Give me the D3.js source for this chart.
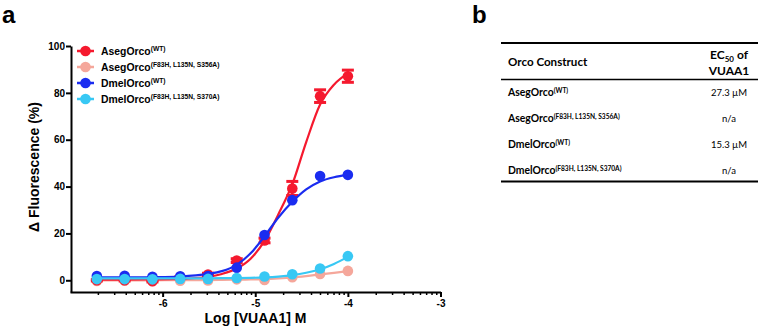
<!DOCTYPE html>
<html>
<head>
<script src="https://d3js.org/d3.v7.min.js"></script>
<style>
  body { margin: 0; background: #fff; }
  svg { display: block; }
  .axis text { font-family: "Liberation Sans", Arial, sans-serif; font-weight: bold; font-size: 10px; fill: #000; }
  .axis path, .axis line { stroke: #000; stroke-width: 2; }
  .minor line { stroke-width: 1.5; }
  .title { font-family: "Liberation Sans", Arial, sans-serif; font-weight: bold; font-size: 14px; }
  .panel { font-family: "Liberation Sans", Arial, sans-serif; font-weight: bold; font-size: 24px; }
  .legend text { font-family: "Liberation Sans", Arial, sans-serif; font-weight: bold; font-size: 10.4px; }
  .tbl text { font-family: Lato, "Open Sans", sans-serif; fill: #000; }
</style>
</head>
<body>
<div id="chart"></div>
<script>
// dose points, log10 [VUAA1] M (two-fold dilutions from 100 uM)
const logConc = [-6.71, -6.41, -6.11, -5.81, -5.51, -5.20, -4.90, -4.60, -4.30, -4.00];
const asegWT    = [0.0, 0.0, -0.4, 1.1, 2.5, 8.4, 17.0, 39.2, 78.6, 87.1];
const asegWTErr = [0.3, 0.3, 0.3, 0.4, 0.5, 0.8, 1.0, 3.0, 2.7, 2.6];
const asegMut   = [-0.3, -0.2, -0.3, -0.2, -0.1, 0.4, 0.1, 1.3, 2.7, 4.0];
const dmelWT    = [1.8, 1.9, 1.5, 1.7, 1.8, 5.4, 19.3, 34.2, 44.5, 45.0];
const dmelMut   = [0.5, 0.5, 0.4, 0.6, 0.6, 1.0, 1.6, 2.6, 5.0, 10.3];

// fitted curves at these x positions
const fitX       = [-6.71, -6.41, -6.11, -5.81, -5.51, -5.36, -5.20, -5.05, -4.90, -4.75, -4.60, -4.45, -4.30, -4.15, -4.00];
const asegWTFit  = [0.3, 0.3, 0.4, 0.6, 1.5, 2.7, 5.0, 9.2, 16.8, 28.2, 41.0, 59.0, 75.0, 83.5, 88.3];
const asegMutFit = [0.0, 0.0, 0.0, 0.05, 0.1, 0.15, 0.25, 0.35, 0.5, 0.8, 1.2, 1.8, 2.5, 3.2, 3.9];
const dmelWTFit  = [1.2, 1.2, 1.3, 1.6, 2.7, 3.9, 6.6, 11.5, 18.8, 26.8, 33.5, 38.8, 42.2, 44.0, 45.0];
const dmelMutFit = [0.8, 0.8, 0.8, 0.8, 0.85, 0.9, 0.95, 1.05, 1.25, 1.6, 2.2, 3.2, 4.7, 7.0, 10.0];

const xMajor = [-6, -5, -4, -3];
const yTicks = [0, 20, 40, 60, 80, 100];

const seriesNames = ["AsegOrco", "AsegOrco", "DmelOrco", "DmelOrco"];
const seriesSups = ["(WT)", "(F83H, L135N, S356A)", "(WT)", "(F83H, L135N, S370A)"];
const colors = ["#f5192e", "#f5a79b", "#1a2cf0", "#38c8f4"];

const tableHead = ["Orco Construct", "EC", "50", " of", "VUAA1"];
const ec50 = ["27.3 \u00b5M", "n/a", "15.3 \u00b5M", "n/a"];

const width = 760, height = 330;
const svg = d3.select("#chart").append("svg")
  .attr("width", width).attr("height", height);

const x = d3.scaleLinear().domain([-7, -3]).range([70, 440.5]);
const y = d3.scaleLinear().domain([-5, 100]).range([292, 46]);

// minor log ticks inside each decade
const xMinor = [];
for (let dec = -7; dec < -3; dec++) {
  for (let k = 2; k <= 9; k++) xMinor.push(dec + Math.log10(k));
}

svg.append("g").attr("class", "axis minor")
  .attr("transform", `translate(0,292)`)
  .call(d3.axisBottom(x).tickValues(xMinor).tickSize(3).tickSizeOuter(0).tickFormat(""))
  .select(".domain").remove();

svg.append("g").attr("class", "axis")
  .attr("transform", `translate(0,292)`)
  .call(d3.axisBottom(x).tickValues(xMajor).tickSize(5).tickSizeOuter(0).tickPadding(3)
    .tickFormat(d => String(d)));

svg.append("g").attr("class", "axis")
  .attr("transform", `translate(71,0)`)
  .call(d3.axisLeft(y).tickValues(yTicks).tickSize(5).tickSizeOuter(0).tickPadding(1));

svg.append("text").attr("class", "title")
  .attr("x", 255.5).attr("y", 323).attr("text-anchor", "middle")
  .text("Log [VUAA1] M");

svg.append("text").attr("class", "title")
  .attr("transform", "translate(38.5,167) rotate(-90)")
  .attr("text-anchor", "middle")
  .text("\u0394 Fluorescence (%)");

svg.append("text").attr("class", "panel").attr("x", 2).attr("y", 23).text("a");
svg.append("text").attr("class", "panel").attr("x", 472).attr("y", 23).text("b");

// data series
const series = [
  { pts: asegMut, fit: asegMutFit, err: null, color: colors[1] },
  { pts: asegWT, fit: asegWTFit, err: asegWTErr, color: colors[0] },
  { pts: dmelWT, fit: dmelWTFit, err: null, color: colors[2] },
  { pts: dmelMut, fit: dmelMutFit, err: null, color: colors[3] }
];

const line = d3.line()
  .x((d, i) => x(fitX[i]))
  .y(d => y(d))
  .curve(d3.curveMonotoneX);

series.forEach(s => {
  const g = svg.append("g");
  if (s.err) {
    s.pts.forEach((v, i) => {
      const e = s.err[i];
      const cx = x(logConc[i]);
      g.append("line").attr("x1", cx).attr("x2", cx)
        .attr("y1", y(v - e)).attr("y2", y(v + e))
        .attr("stroke", s.color).attr("stroke-width", 2.5);
      [v - e, v + e].forEach(b => {
        g.append("line").attr("x1", cx - 6).attr("x2", cx + 6)
          .attr("y1", y(b)).attr("y2", y(b))
          .attr("stroke", s.color).attr("stroke-width", 3);
      });
    });
  }
  g.append("path").datum(s.fit)
    .attr("d", line).attr("fill", "none")
    .attr("stroke", s.color).attr("stroke-width", 2.2);
  g.selectAll("circle").data(s.pts).join("circle")
    .attr("cx", (d, i) => x(logConc[i]))
    .attr("cy", d => y(d))
    .attr("r", 5.3)
    .attr("fill", s.color);
});

// legend
const legendRows = [51, 67, 83, 99];
const legend = svg.append("g").attr("class", "legend");
seriesNames.forEach((name, i) => {
  const cy = legendRows[i];
  legend.append("line").attr("x1", 77).attr("x2", 94)
    .attr("y1", cy).attr("y2", cy)
    .attr("stroke", colors[i]).attr("stroke-width", 2.5);
  legend.append("circle").attr("cx", 85.5).attr("cy", cy).attr("r", 5.3)
    .attr("fill", colors[i]);
  const t = legend.append("text").attr("x", 101).attr("y", cy + 4);
  t.append("tspan").text(name);
  t.append("tspan").attr("dy", -4).style("font-size", "6.7px").text(seriesSups[i]);
});

// table (panel b)
const tbl = svg.append("g").attr("class", "tbl");
const tL = 501, tR = 758;
tbl.append("line").attr("x1", tL).attr("x2", tR).attr("y1", 43).attr("y2", 43)
  .attr("stroke", "#000").attr("stroke-width", 2);
tbl.append("line").attr("x1", tL).attr("x2", tR).attr("y1", 79.5).attr("y2", 79.5)
  .attr("stroke", "#000").attr("stroke-width", 1.3);
tbl.append("line").attr("x1", tL).attr("x2", tR).attr("y1", 181.5).attr("y2", 181.5)
  .attr("stroke", "#000").attr("stroke-width", 2);

tbl.append("text").attr("x", 508).attr("y", 66)
  .style("font-weight", "bold").style("font-size", "11.6px").text(tableHead[0]);
const h2 = tbl.append("text").attr("x", 729).attr("y", 59).attr("text-anchor", "middle")
  .style("font-weight", "bold").style("font-size", "12px");
h2.append("tspan").text(tableHead[1]);
h2.append("tspan").attr("dy", 2.5).style("font-size", "8px").text(tableHead[2]);
h2.append("tspan").attr("dy", -2.5).text(tableHead[3]);
tbl.append("text").attr("x", 729).attr("y", 75).attr("text-anchor", "middle")
  .style("font-weight", "bold").style("font-size", "12px").text(tableHead[4]);

const rowY = [96, 122, 148, 174];
seriesNames.forEach((name, i) => {
  const t = tbl.append("text").attr("x", 508).attr("y", rowY[i])
    .style("font-weight", "bold").style("font-size", "10.4px");
  t.append("tspan").text(name);
  t.append("tspan").attr("dy", -3.4).style("font-size", "6.6px").text(seriesSups[i]);
  tbl.append("text").attr("x", 729).attr("y", rowY[i]).attr("text-anchor", "middle")
    .style("font-size", "9.5px").text(ec50[i]);
});
</script>
</body>
</html>
